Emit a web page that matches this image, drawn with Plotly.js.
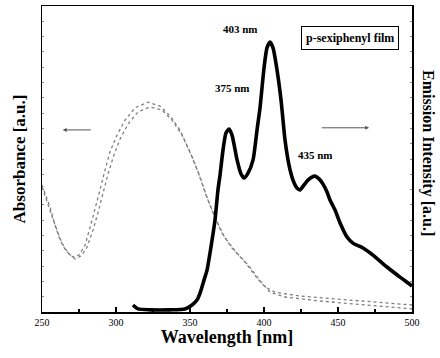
<!DOCTYPE html>
<html><head><meta charset="utf-8">
<script src="https://cdn.plot.ly/plotly-3.0.1.min.js"></script>
<style>html,body{margin:0;padding:0;background:#fff}#c{width:440px;height:358px}</style>
</head><body><div id="c"></div>
<script>
const absWlA = [250,252.7,255.4,258.8,262.2,266.2,270.9,275,279.1,282.4,285.8,289.2,292.6,295.9,300.7,306.1,312.8,321.6,329.7,336.5,343.2,350,355.4,360.8,366.2,371.6,378.4,387.2,395.3,400.7,407.4,424.3,458.1,500];
const absA = [0.415,0.379,0.343,0.284,0.235,0.199,0.180,0.186,0.219,0.275,0.333,0.399,0.464,0.523,0.578,0.627,0.667,0.686,0.673,0.641,0.595,0.523,0.458,0.382,0.317,0.258,0.209,0.163,0.111,0.082,0.065,0.052,0.039,0.023];
const absWlB = [250,252.7,255.4,259.5,263.5,267.6,272.3,276.4,280.4,284.5,287.8,291.2,294.6,298.6,302.7,308.1,314.9,323,331.1,337.8,344.6,351.4,356.8,362.2,367.6,373.6,381.1,389.9,398,404.1,414.2,437.8,471.6,500];
const absB = [0.408,0.369,0.333,0.275,0.225,0.193,0.173,0.183,0.212,0.268,0.324,0.389,0.451,0.513,0.565,0.614,0.654,0.670,0.660,0.627,0.578,0.507,0.441,0.366,0.301,0.242,0.196,0.150,0.098,0.065,0.049,0.036,0.023,0.010];
const emWl = [311.5,314.9,323,336.5,346.6,351.4,354.7,356.8,359.5,361.5,364.9,366.9,368.9,370.3,372.3,374.3,376.4,378.4,381.8,384.5,386.5,389.2,392.6,395.3,397.3,400,402,404.1,406.1,408.8,411.5,414.2,416.9,419.6,422.3,424.3,427,429.7,432.4,434.5,437.2,439.9,442.6,444.6,448,451.4,456.1,460.1,466.9,473.6,483.1,491.9,497.3,500];
const em = [0.023,0.010,0.007,0.007,0.010,0.023,0.039,0.062,0.105,0.137,0.235,0.301,0.399,0.448,0.529,0.585,0.598,0.578,0.497,0.451,0.438,0.454,0.497,0.595,0.667,0.797,0.863,0.882,0.863,0.791,0.693,0.562,0.480,0.431,0.405,0.399,0.415,0.431,0.441,0.444,0.435,0.418,0.392,0.366,0.333,0.291,0.245,0.225,0.209,0.186,0.147,0.114,0.095,0.085];
const xTicks = [250,300,350,400,450,500];
const peakLabels = ["403 nm","375 nm","435 nm"];
const peakLabelWl = [383.8,379,435];
const peakLabelY = [0.925,0.732,0.513];

const serif = "Liberation Serif, Times New Roman, serif";
const traces = [
  {x: absWlA, y: absA, mode:'lines', line:{color:'#808080', width:1.3, dash:'dot'}, xaxis:'x', yaxis:'y', hoverinfo:'skip'},
  {x: absWlB, y: absB, mode:'lines', line:{color:'#808080', width:1.3, dash:'dot'}, xaxis:'x', yaxis:'y', hoverinfo:'skip'},
  {x: emWl, y: em, mode:'lines', line:{color:'#000', width:3.6, shape:'spline', smoothing:0.6}, xaxis:'x', yaxis:'y2', hoverinfo:'skip'}
];
const annFont = {family: serif, size: 11, color:'#000'};
const anns = peakLabels.map((t,i)=>({xref:'x', yref:'paper', x:peakLabelWl[i], y:peakLabelY[i], xanchor:'center', yanchor:'middle',
  text:'<b>'+t+'</b>', showarrow:false, font:annFont}));
anns.push(
  {xref:'paper', yref:'paper', x:0.832, y:0.895, xanchor:'center', yanchor:'middle', text:'<b>p-sexiphenyl film</b>', showarrow:false,
    font:{family:serif, size:12, color:'#000'}, bordercolor:'#000', borderwidth:1, borderpad:4, bgcolor:'#fff'},
  {xref:'paper', yref:'paper', x:1.043, y:0.52, xanchor:'center', yanchor:'middle', text:'<b>Emission Intensity [a.u.]</b>', textangle:90, showarrow:false,
    font:{family:serif, size:16, color:'#000'}},
  {xref:'x', yref:'paper', x:264, y:0.595, ax:284, ay:0.595, axref:'x', ayref:'paper', text:'', showarrow:true,
    arrowhead:2, arrowsize:0.8, arrowwidth:1, arrowcolor:'#555'},
  {xref:'x', yref:'paper', x:471, y:0.602, ax:438, ay:0.602, axref:'x', ayref:'paper', text:'', showarrow:true,
    arrowhead:2, arrowsize:0.8, arrowwidth:1, arrowcolor:'#555'}
);
const layout = {
  width:440, height:358,
  margin:{l:42, r:28, t:6, b:46},
  paper_bgcolor:'#fff', plot_bgcolor:'#fff',
  showlegend:false,
  xaxis:{range:[250,500], tickvals:xTicks, ticktext:xTicks.map(String), ticks:'inside', ticklen:5, tickwidth:1.2, tickcolor:'#000',
    minor:{dtick:25, ticks:'inside', ticklen:3, tickcolor:'#000'},
    showline:true, linecolor:'#000', linewidth:1.5, mirror:true, showgrid:false, zeroline:false,
    tickfont:{family:serif, size:10, color:'#000'},
    title:{text:'<b>Wavelength [nm]</b>', font:{family:serif, size:18, color:'#000'}, standoff:4}},
  yaxis:{range:[0,1], showticklabels:false, ticks:'inside', ticklen:2, tickcolor:'#888', dtick:0.05,
    showline:true, linecolor:'#000', linewidth:1.5, showgrid:false, zeroline:false,
    title:{text:'<b>Absorbance [a.u.]</b>', font:{family:serif, size:17, color:'#000'}, standoff:10}},
  yaxis2:{range:[0,1], overlaying:'y', side:'right', showticklabels:false, ticks:'inside', ticklen:2, tickcolor:'#888', dtick:0.05,
    showline:true, linecolor:'#000', linewidth:1.5, showgrid:false, zeroline:false},
  annotations: anns
};
Plotly.newPlot('c', traces, layout, {staticPlot:true, displayModeBar:false});
</script></body></html>
